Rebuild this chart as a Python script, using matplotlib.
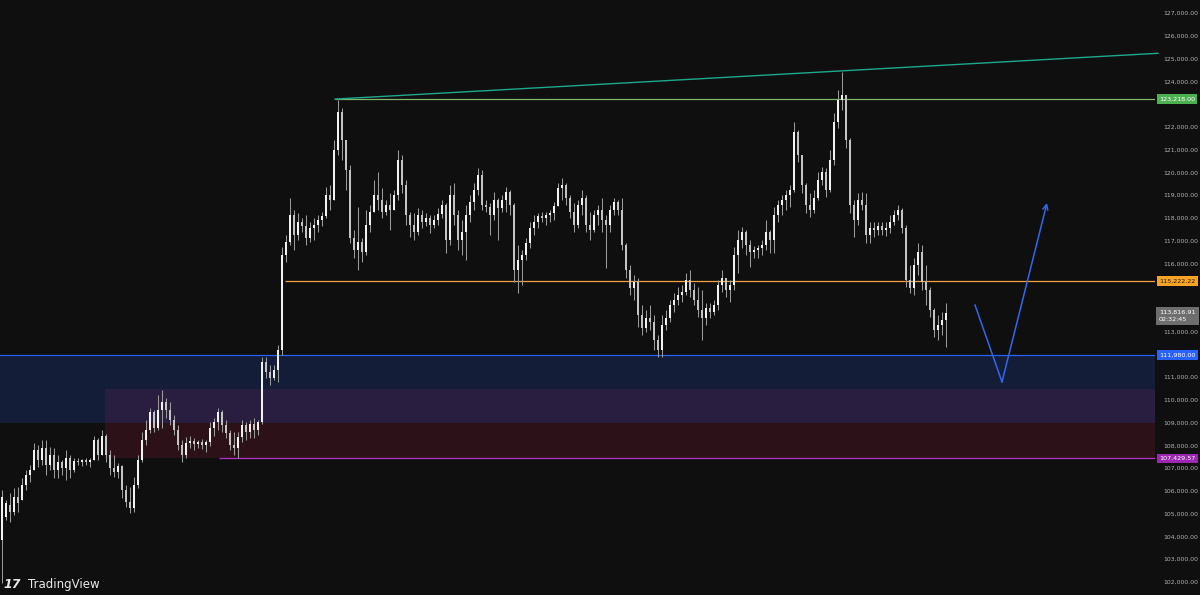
import matplotlib
matplotlib.use("Agg")
import matplotlib.pyplot as plt
import matplotlib.transforms as mtransforms
import numpy as np

# price data in thousands of USD
opens = [
    103.85, 104.86, 105.38, 105.08, 105.74, 105.60, 106.26, 106.70, 106.92, 107.80,
    107.36, 107.89, 107.14, 107.58, 106.92, 107.27, 107.01, 107.45, 106.92, 107.32,
    107.27, 107.36, 107.27, 107.36, 108.24, 107.58, 108.42, 107.58, 107.01, 106.83,
    107.10, 106.04, 105.52, 105.25, 106.26, 107.36, 108.24, 108.68, 109.47, 108.77,
    109.56, 109.91, 109.56, 109.12, 108.68, 108.02, 107.58, 108.11, 108.20, 108.06,
    108.15, 108.02, 108.15, 108.77, 109.03, 109.47, 108.90, 108.55, 108.02, 107.89,
    108.37, 108.90, 108.59, 108.94, 108.68, 109.03, 111.67, 111.23, 110.96, 111.31,
    112.19, 116.37, 116.94, 118.13, 117.25, 117.82, 117.64, 117.11, 117.55, 117.69,
    117.91, 118.08, 119.00, 118.78, 120.98, 122.65, 121.42, 120.10, 117.11, 116.59,
    116.94, 116.50, 117.69, 118.26, 119.00, 118.78, 118.26, 118.56, 118.34, 119.00,
    120.54, 119.44, 118.13, 117.69, 117.38, 118.13, 117.82, 117.99, 117.69, 117.91,
    118.17, 118.56, 117.03, 119.00, 118.13, 117.03, 117.38, 118.13, 118.70, 119.22,
    119.88, 118.56, 118.48, 118.13, 118.78, 118.43, 118.78, 119.14, 118.56, 115.71,
    116.15, 116.37, 116.89, 117.55, 117.82, 118.08, 117.99, 118.13, 118.21, 118.52,
    119.31, 119.44, 118.87, 118.26, 117.69, 118.56, 118.87, 117.69, 117.47, 118.13,
    118.34, 117.91, 117.69, 118.34, 118.70, 118.34, 116.81, 115.71, 114.92, 115.18,
    113.73, 113.16, 113.60, 113.42, 112.63, 112.19, 113.29, 113.60, 114.17, 114.39,
    114.61, 114.74, 115.27, 114.83, 114.39, 113.95, 113.60, 114.04, 113.86, 114.17,
    115.05, 115.36, 114.83, 115.05, 116.37, 117.03, 117.38, 116.81, 116.50, 116.59,
    116.68, 116.81, 117.38, 117.03, 118.13, 118.56, 118.78, 119.00, 119.22, 121.77,
    120.76, 119.44, 118.56, 118.34, 118.87, 119.66, 120.01, 119.22, 120.54, 122.21,
    123.18, 123.40, 121.42, 118.56, 117.91, 118.78, 118.56, 117.25, 117.55, 117.47,
    117.64, 117.47, 117.55, 117.82, 118.13, 118.34, 117.55, 115.27, 114.92, 115.93,
    116.50, 115.18, 114.83, 113.95, 113.07, 113.29, 113.51,
]
highs = [
    106.04, 105.60, 105.91, 106.13, 106.17, 106.57, 106.92, 107.14, 108.11, 108.02,
    108.24, 108.24, 107.93, 107.89, 107.58, 107.36, 107.80, 107.58, 107.45, 107.45,
    107.40, 107.45, 107.45, 108.42, 108.33, 108.68, 108.50, 107.80, 107.58, 107.23,
    107.14, 106.26, 106.17, 106.61, 107.58, 108.59, 109.12, 109.65, 109.56, 110.22,
    110.44, 110.08, 109.91, 109.34, 108.90, 108.24, 108.37, 108.42, 108.33, 108.24,
    108.28, 108.24, 109.03, 109.21, 109.65, 109.56, 109.12, 108.68, 108.59, 108.59,
    109.12, 109.03, 109.12, 109.21, 109.12, 111.89, 111.89, 111.53, 111.53, 112.41,
    116.72, 117.25, 118.87, 118.34, 118.21, 117.99, 118.13, 117.82, 117.99, 118.13,
    118.26, 119.36, 119.44, 121.42, 123.18, 122.83, 121.42, 120.32, 117.47, 118.48,
    117.11, 118.34, 118.56, 119.66, 120.01, 119.31, 118.78, 119.09, 119.22, 120.98,
    120.76, 119.66, 118.26, 118.21, 118.43, 118.34, 118.21, 118.13, 118.13, 118.43,
    118.78, 118.65, 119.44, 119.53, 118.34, 117.91, 118.56, 119.00, 119.53, 120.19,
    120.10, 118.78, 118.65, 119.14, 118.87, 119.00, 119.36, 119.22, 118.65, 116.81,
    116.59, 117.11, 117.82, 118.13, 118.21, 118.26, 118.26, 118.34, 118.70, 119.53,
    119.75, 119.53, 119.00, 118.65, 118.78, 119.22, 119.00, 118.26, 118.34, 118.56,
    118.87, 118.13, 118.56, 118.87, 118.78, 118.87, 116.89, 115.93, 115.49, 115.36,
    114.17, 113.95, 114.17, 113.73, 112.85, 113.73, 113.95, 114.39, 114.70, 114.96,
    115.05, 115.58, 115.71, 115.14, 114.96, 114.83, 114.26, 114.26, 114.39, 115.27,
    115.71, 115.36, 115.27, 116.72, 117.47, 117.60, 117.47, 117.03, 116.76, 116.81,
    117.03, 117.91, 117.47, 118.48, 118.78, 119.00, 119.22, 119.44, 122.21, 121.86,
    120.76, 119.53, 119.09, 119.22, 120.01, 120.23, 120.19, 120.98, 122.61, 123.62,
    124.41, 123.40, 121.51, 118.78, 119.09, 119.14, 119.09, 117.82, 117.82, 117.82,
    117.82, 117.82, 118.13, 118.34, 118.56, 118.43, 117.69, 115.93, 116.24, 116.89,
    116.81, 115.93, 114.96, 114.04, 113.73, 113.86, 114.26,
]
lows = [
    101.96, 104.72, 104.64, 104.94, 105.08, 105.60, 106.04, 106.39, 106.92, 107.05,
    107.14, 106.70, 106.92, 106.57, 106.57, 106.70, 106.48, 106.57, 106.83, 107.14,
    107.10, 107.14, 107.05, 107.36, 107.36, 107.58, 107.27, 106.70, 106.61, 106.57,
    105.69, 105.30, 105.03, 105.08, 106.13, 107.27, 108.02, 108.55, 108.59, 108.68,
    108.77, 109.21, 108.90, 108.46, 107.80, 107.27, 107.45, 107.89, 107.80, 107.89,
    107.84, 107.71, 107.98, 108.42, 108.68, 108.59, 108.33, 107.80, 107.58, 107.45,
    108.15, 108.24, 108.33, 108.33, 108.46, 108.94, 110.96, 110.66, 110.88, 110.79,
    111.97, 116.06, 116.81, 116.59, 117.03, 117.38, 116.81, 116.94, 117.03, 117.38,
    117.64, 117.99, 118.34, 118.78, 120.76, 120.54, 119.22, 116.89, 116.24, 115.71,
    116.06, 116.37, 117.38, 118.26, 118.34, 117.99, 118.13, 117.47, 118.34, 118.78,
    119.09, 117.69, 117.16, 117.03, 117.25, 117.55, 117.64, 117.33, 117.55, 117.69,
    117.99, 116.46, 116.81, 117.69, 116.59, 116.37, 116.15, 117.82, 118.34, 119.00,
    118.34, 118.26, 117.25, 117.91, 117.03, 118.26, 118.26, 118.13, 115.18, 114.70,
    115.05, 116.15, 116.68, 117.25, 117.55, 117.82, 117.69, 117.82, 117.91, 118.52,
    118.78, 118.56, 117.99, 117.38, 117.55, 118.13, 117.38, 117.03, 117.38, 117.69,
    117.38, 115.80, 117.38, 118.13, 118.13, 116.59, 115.36, 114.61, 114.39, 113.20,
    112.85, 112.98, 113.07, 112.19, 111.89, 111.89, 113.07, 113.42, 113.86, 114.17,
    114.30, 114.61, 114.52, 114.17, 113.64, 112.63, 113.29, 113.60, 113.73, 113.95,
    114.74, 114.52, 114.30, 114.83, 115.58, 116.68, 116.37, 115.84, 116.24, 116.24,
    116.37, 116.59, 116.46, 116.46, 117.82, 118.13, 118.34, 118.48, 119.14, 120.45,
    119.09, 118.21, 118.04, 118.21, 118.78, 119.44, 118.92, 119.14, 120.32, 121.95,
    122.74, 121.07, 118.21, 117.16, 117.69, 118.34, 116.89, 116.89, 117.16, 117.25,
    117.25, 117.20, 117.33, 117.69, 117.91, 117.33, 114.96, 114.70, 114.61, 115.49,
    114.83, 114.17, 113.64, 112.77, 112.63, 112.85, 112.33,
]
closes = [
    105.74, 105.47, 105.08, 105.74, 105.47, 106.26, 106.70, 106.92, 107.80, 107.36,
    107.89, 107.14, 107.58, 106.92, 107.27, 107.01, 107.45, 106.92, 107.32, 107.27,
    107.36, 107.27, 107.36, 108.24, 107.58, 108.42, 107.58, 107.01, 106.83, 107.10,
    106.04, 105.52, 105.25, 106.26, 107.36, 108.24, 108.68, 109.47, 108.77, 109.56,
    109.91, 109.56, 109.12, 108.68, 108.02, 107.58, 108.11, 108.20, 108.06, 108.15,
    108.02, 108.15, 108.77, 109.03, 109.47, 108.90, 108.55, 108.02, 107.89, 108.37,
    108.90, 108.59, 108.94, 108.68, 109.03, 111.67, 111.23, 110.96, 111.31, 112.19,
    116.37, 116.94, 118.13, 117.25, 117.82, 117.64, 117.11, 117.55, 117.69, 117.91,
    118.08, 119.00, 118.78, 120.98, 122.65, 121.42, 120.10, 117.11, 116.59, 116.94,
    116.50, 117.69, 118.26, 119.00, 118.78, 118.26, 118.56, 118.34, 119.00, 120.54,
    119.44, 118.13, 117.69, 117.38, 118.13, 117.82, 117.99, 117.69, 117.91, 118.17,
    118.56, 117.03, 119.00, 118.13, 117.03, 117.38, 118.13, 118.70, 119.22, 119.88,
    118.56, 118.48, 118.13, 118.78, 118.43, 118.78, 119.14, 118.56, 115.71, 116.15,
    116.37, 116.89, 117.55, 117.82, 118.08, 117.99, 118.13, 118.21, 118.52, 119.31,
    119.44, 118.87, 118.26, 117.69, 118.56, 118.87, 117.69, 117.47, 118.13, 118.34,
    117.91, 117.69, 118.34, 118.70, 118.34, 116.81, 115.71, 114.92, 115.18, 113.73,
    113.16, 113.60, 113.42, 112.63, 112.19, 113.29, 113.60, 114.17, 114.39, 114.61,
    114.74, 115.27, 114.83, 114.39, 113.95, 113.60, 114.04, 113.86, 114.17, 115.05,
    115.36, 114.83, 115.05, 116.37, 117.03, 117.38, 116.81, 116.50, 116.59, 116.68,
    116.81, 117.38, 117.03, 118.13, 118.56, 118.78, 119.00, 119.22, 121.77, 120.76,
    119.44, 118.56, 118.34, 118.87, 119.66, 120.01, 119.22, 120.54, 122.21, 123.18,
    123.40, 121.42, 118.56, 117.91, 118.78, 118.56, 117.25, 117.55, 117.47, 117.64,
    117.47, 117.55, 117.82, 118.13, 118.34, 117.55, 115.27, 114.92, 115.93, 116.50,
    115.18, 114.83, 113.95, 113.07, 113.29, 113.51, 113.82,
]
PRICE_SCALE = 1000

# drawn levels (USD) and where they start (bar index)
BLUE_LEVEL = 111980.00
ORANGE_LEVEL = 115222.22
GREEN_LEVEL = 123218.00
MAGENTA_LEVEL = 107429.57
CURRENT_PRICE = 113816.91
COUNTDOWN = "02:32:45"

BLUE_ZONE = (108990, 111980)
RED_ZONE = (107430, 110480)
RED_ZONE_START = 25.75
MAGENTA_START = 54.25
ORANGE_START = 70.75
GREEN_START = 83.25
TREND_START = (83.25, 123218)
TREND_END = (289.0, 125230)

# projected path (bar index, price)
path_x = [243.25, 250.0, 261.25]
path_y = [114170, 110790, 118650]

# scale labels; the ones hidden under the price tags are left out
price_ticks = [p for p in range(102000, 127001, 1000)
               if p not in (112000, 114000, 115000, 123000)]

BG = '#0f0f0f'

fig = plt.figure(figsize=(12, 5.95), dpi=100, facecolor=BG)
ax = fig.add_axes([0, 0, 1155 / 1200, 1])
ax.set_facecolor(BG)
for s in ax.spines.values():
    s.set_visible(False)

x_end = 288.25
ax.set_xlim(-0.5, x_end)
ax.set_ylim(101429, 127571)

# zones
ax.axhspan(BLUE_ZONE[0], BLUE_ZONE[1], color='#131d38', lw=0, zorder=0)
ax.fill_between([RED_ZONE_START, x_end], RED_ZONE[0], BLUE_ZONE[0],
                color='#2c1119', lw=0, zorder=0.1)
ax.fill_between([RED_ZONE_START, x_end], BLUE_ZONE[0], RED_ZONE[1],
                color='#2a1e40', lw=0, zorder=0.1)

# levels
ax.axhline(BLUE_LEVEL, color='#2962ff', lw=0.9, zorder=1)
ax.hlines(ORANGE_LEVEL, ORANGE_START, x_end, color='#f0a03c', lw=0.9, zorder=1)
ax.hlines(GREEN_LEVEL, GREEN_START, x_end, color='#7fb56e', lw=0.9, zorder=1)
ax.hlines(MAGENTA_LEVEL, MAGENTA_START, x_end, color='#b030c8', lw=0.9, zorder=1)
ax.plot([TREND_START[0], TREND_END[0]], [TREND_START[1], TREND_END[1]],
        color='#1fa88c', lw=1.0, zorder=1, clip_on=False)

# candles
o = np.array(opens) * PRICE_SCALE
h = np.array(highs) * PRICE_SCALE
l = np.array(lows) * PRICE_SCALE
c = np.array(closes) * PRICE_SCALE
idx = np.arange(len(o))
up = c >= o
ax.vlines(idx, l, h, color='#9a9a9a', lw=0.75, zorder=2)
body_lo = np.minimum(o, c)
body_h = np.maximum(np.abs(c - o), 40)
ax.bar(idx[up], body_h[up], bottom=body_lo[up], width=0.5,
       color='#f2f2f2', lw=0, zorder=3)
ax.bar(idx[~up], body_h[~up], bottom=body_lo[~up], width=0.5,
       color='#c4c4c4', lw=0, zorder=3)

# projection arrow
ax.plot(path_x[:2], path_y[:2], color='#3068ee', lw=1.1, zorder=4)
ax.annotate('', xy=(path_x[2], path_y[2]), xytext=(path_x[1], path_y[1]),
            arrowprops=dict(arrowstyle='->', color='#3068ee', lw=1.1,
                            mutation_scale=9, shrinkA=0, shrinkB=0),
            zorder=4)

# price scale on the right
ax.set_xticks([])
ax.yaxis.tick_right()
ax.set_yticks(price_ticks)
ax.set_yticklabels([f'{v:,.2f}' for v in price_ticks])
ax.tick_params(axis='y', length=0, pad=6, labelsize=4.4, labelcolor='#b0b3bb')

trans = mtransforms.blended_transform_factory(ax.transAxes, ax.transData)
tags = [
    (GREEN_LEVEL, '#4caf50', 'white'),
    (ORANGE_LEVEL, '#f7a325', '#2a1a00'),
    (BLUE_LEVEL, '#2962ff', 'white'),
    (MAGENTA_LEVEL, '#9c27b0', 'white'),
]
for level, fc, tc in tags:
    ax.text(1.0035, level, f'{level:,.2f}', transform=trans, ha='left',
            va='center', fontsize=4.6, color=tc, clip_on=False, zorder=10,
            bbox=dict(boxstyle='square,pad=0.35', fc=fc, ec='none'))

ax.text(1.0035, CURRENT_PRICE - 120, f'{CURRENT_PRICE:,.2f}\n{COUNTDOWN}',
        transform=trans, ha='left', va='center', fontsize=4.6, color='white',
        linespacing=1.5, clip_on=False, zorder=10,
        bbox=dict(boxstyle='square,pad=0.45', fc='#6e6e6e', ec='none'))

# watermark
fig.text(0.003, 0.017, '17', fontsize=9, fontweight='bold', color='#e8e8e8',
         ha='left', va='center', style='italic')
fig.text(0.023, 0.017, 'TradingView', fontsize=8.5, color='#e8e8e8',
         ha='left', va='center')

fig.savefig('out.png', dpi=100, facecolor=BG)
